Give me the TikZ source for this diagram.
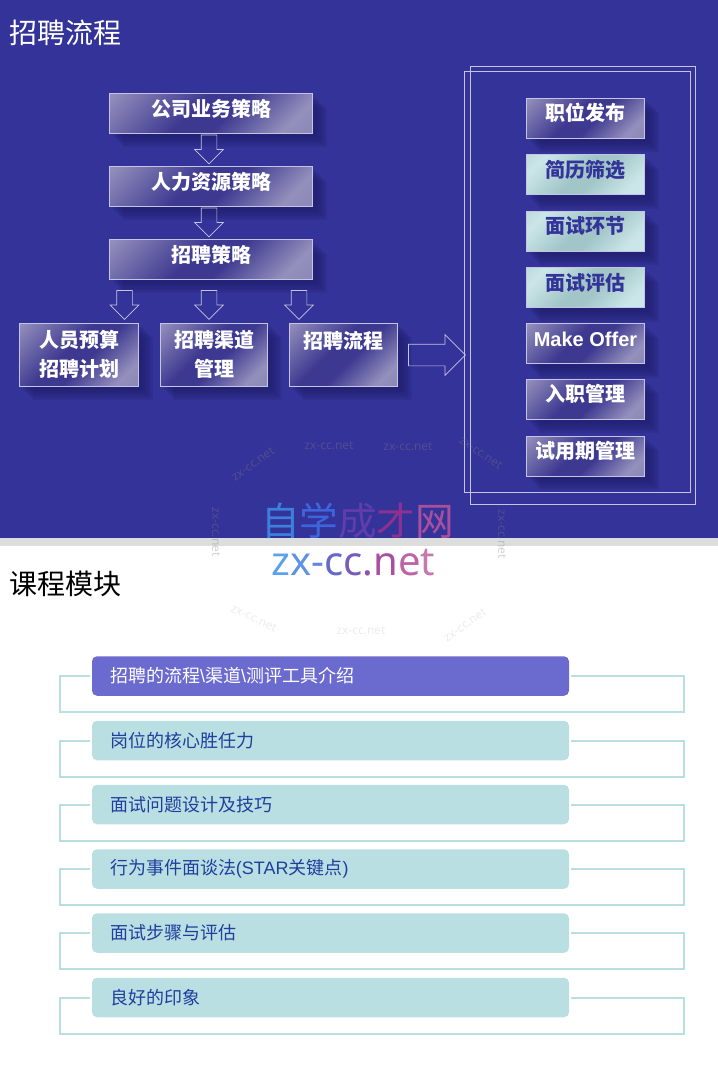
\documentclass[tikz,border=0pt]{standalone}
\usepackage{fontspec}
\setmainfont{Noto Sans CJK SC}
\newfontfamily\latinfont{Liberation Sans}
\newfontfamily\markfont{Noto Sans}
\usetikzlibrary{shapes.arrows,shadows}

\definecolor{pagebg}{HTML}{333399}
\definecolor{bandgray}{HTML}{DCDEDE}
\definecolor{lineglow}{HTML}{C4C4E4}
\definecolor{shadowblue}{HTML}{1E1C66}
\definecolor{darka}{HTML}{9490BC}
\definecolor{darkb}{HTML}{3D3890}
\definecolor{darkc}{HTML}{7E7AAE}
\definecolor{lighta}{HTML}{CBE6E8}
\definecolor{lightb}{HTML}{A2C6C8}
\definecolor{rowteal}{HTML}{B9DFE2}
\definecolor{rowpurple}{HTML}{6B6BCF}
\definecolor{rowtext}{HTML}{1F3F9F}

\pgfdeclarehorizontalshading{darkfill}{100bp}{color(0bp)=(darka); color(15bp)=(darka); color(44bp)=(darkb); color(55bp)=(darkb); color(76bp)=(darka); color(100bp)=(darkc)}
\pgfdeclarehorizontalshading{lightfill}{100bp}{color(0bp)=(lightb); color(24bp)=(lighta); color(46bp)=(lightb); color(56bp)=(lightb); color(76bp)=(lighta); color(100bp)=(lighta)}

\tikzset{
    softshadow/.style={
        general shadow={fill=shadowblue,opacity=.16,shadow xshift=4pt,shadow yshift=-4pt},
        general shadow={fill=shadowblue,opacity=.16,shadow xshift=6pt,shadow yshift=-6pt},
        general shadow={fill=shadowblue,opacity=.16,shadow xshift=8pt,shadow yshift=-8pt},
        general shadow={fill=shadowblue,opacity=.16,shadow xshift=10pt,shadow yshift=-10pt},
        general shadow={fill=shadowblue,opacity=.16,shadow xshift=12pt,shadow yshift=-12pt},
        general shadow={fill=shadowblue,opacity=.16,shadow xshift=14pt,shadow yshift=-14pt}},
    boxbase/.style={softshadow,draw=lineglow,line width=.9pt,inner sep=0pt,font=\bfseries\fontsize{20}{29}\selectfont},
    darkbox/.style={boxbase,shade,shading=darkfill,shading angle=-45,text=white},
    lightbox/.style={boxbase,shade,shading=lightfill,shading angle=-45,text=pagebg},
    liftedtext/.style={text height=14pt,text depth=9pt},
    blockarrow/.style={single arrow,draw=lineglow,line width=.7pt,inner sep=7.5pt,single arrow head extend=6.5pt,minimum width=28pt,minimum height=29pt,rotate=-90},
    rowbox/.style={rounded corners=5pt,minimum width=477pt,minimum height=39.5pt,inner sep=0pt,text width=441pt,align=left,font=\fontsize{18}{22}\selectfont},
    rowplain/.style={rowbox,fill=rowteal,text=rowtext},
    rowline/.style={draw=rowteal,line width=2pt},
    thinmark/.style={font=\markfont\fontsize{12}{12}\selectfont,text=gray,text opacity=.35,inner sep=0pt},
    palemark/.style={font=\markfont\fontsize{12}{12}\selectfont,text=gray,text opacity=.15,inner sep=0pt},
    logomark/.style={inner sep=0pt,text opacity=.85}
}

\begin{document}
\begin{tikzpicture}[x=1pt,y=-1pt]
    \useasboundingbox (0,0) rectangle (718,1080);
    \fill[pagebg](0,0) rectangle (718,538);
    \fill[bandgray](0,538) rectangle (718,546);

    \node[text=white,anchor=west,inner sep=0pt,font=\fontsize{28}{30}\selectfont](titletop) at (9,33){招聘流程};
    \node[text=black,anchor=west,inner sep=0pt,font=\fontsize{28}{30}\selectfont](titlelow) at (9,584){课程模块};

    % left side
    \node[darkbox,liftedtext,minimum width=203.5pt,minimum height=39.5pt](bizplan) at (211,113.5){公司业务策略};
    \node[darkbox,liftedtext,minimum width=203.5pt,minimum height=39.5pt](hrplan) at (211,186.5){人力资源策略};
    \node[darkbox,liftedtext,minimum width=203.5pt,minimum height=39.5pt](hireplan) at (211,259.5){招聘策略};
    \node[darkbox,align=center,minimum width=119.5pt,minimum height=63pt](budget) at (79,354.5){人员预算\\招聘计划};
    \node[darkbox,align=center,minimum width=107.5pt,minimum height=63pt](channel) at (214,354.5){招聘渠道\\管理};
    \node[darkbox,align=center,minimum width=108.5pt,minimum height=63pt](process) at (343.5,354.5){招聘流程\\\mbox{}};

    \node[blockarrow](arrowa) at (209,145.5){};
    \node[blockarrow](arrowb) at (209,218.5){};
    \node[blockarrow](arrowc) at (124.5,301){};
    \node[blockarrow](arrowd) at (209,301){};
    \node[blockarrow](arrowe) at (299,301){};
    \node[blockarrow,rotate=90,inner sep=10.5pt,single arrow head extend=9.5pt,minimum width=40pt,minimum height=57pt](arrowf) at (431.5,355){};

    % right side
    \draw[lineglow,line width=.9pt](470,66) rectangle (695,504);
    \draw[lineglow,line width=.9pt](464.5,71) rectangle (690,492.5);

    \node[darkbox,liftedtext,minimum width=118.5pt,minimum height=40pt](stepa) at (585.5,118){职位发布};
    \node[lightbox,liftedtext,minimum width=118.5pt,minimum height=40pt](stepb) at (585.5,174.5){简历筛选};
    \node[lightbox,liftedtext,minimum width=118.5pt,minimum height=40pt](stepc) at (585.5,231){面试环节};
    \node[lightbox,liftedtext,minimum width=118.5pt,minimum height=40pt](stepd) at (585.5,287.5){面试评估};
    \node[darkbox,liftedtext,minimum width=118.5pt,minimum height=40pt](stepe) at (585.5,343.5){\latinfont\bfseries Make Offer};
    \node[darkbox,liftedtext,minimum width=118.5pt,minimum height=40pt](stepf) at (585.5,399){入职管理};
    \node[darkbox,liftedtext,minimum width=118.5pt,minimum height=40pt](stepg) at (585.5,456){试用期管理};

    % watermarks
    \node[thinmark](marka) at (329,446){zx-cc.net};
    \node[thinmark](markb) at (408,447){zx-cc.net};
    \node[thinmark,rotate=35](markc) at (253,464){zx-cc.net};
    \node[thinmark,rotate=-35](markd) at (481,453){zx-cc.net};
    \node[thinmark,rotate=-90](marke) at (216,532){zx-cc.net};
    \node[thinmark,rotate=-90](markf) at (502,534){zx-cc.net};
    \node[palemark,rotate=-25](markg) at (254,618){zx-cc.net};
    \node[palemark](markh) at (361,631){zx-cc.net};
    \node[palemark,rotate=35](marki) at (465,625){zx-cc.net};

    \node[logomark,font=\fontsize{38.6}{40}\selectfont](logocn) at (357.5,521){\textcolor[HTML]{3F8EE8}{自}\textcolor[HTML]{4070E8}{学}\textcolor[HTML]{6A3FB0}{成}\textcolor[HTML]{A03090}{才}\textcolor[HTML]{C0559E}{网}};
    \node[logomark,font=\markfont\fontsize{40}{40}\selectfont](logoen) at (353.5,563){\textcolor[HTML]{4090E8}{z}\textcolor[HTML]{4080E0}{x}\textcolor[HTML]{4A70D8}{-}\textcolor[HTML]{4A50C0}{c}\textcolor[HTML]{6040B0}{c}\textcolor[HTML]{8030A0}{.}\textcolor[HTML]{9A3090}{n}\textcolor[HTML]{B04A96}{e}\textcolor[HTML]{C0609F}{t}};

    % course rows
    \node[rowbox,fill=rowpurple,text=white](rowa) at (330.5,676){招聘的流程{\latinfont\textbackslash}渠道{\latinfont\textbackslash}测评工具介绍};
    \node[rowplain](rowb) at (330.5,740.5){岗位的核心胜任力};
    \node[rowplain](rowc) at (330.5,804.5){面试问题设计及技巧};
    \node[rowplain](rowd) at (330.5,869){行为事件面谈法{\latinfont (STAR}关键点{\latinfont )}};
    \node[rowplain](rowe) at (330.5,933){面试步骤与评估};
    \node[rowplain](rowf) at (330.5,997.5){良好的印象};

    \draw[rowline]([xshift=-2pt]rowa.west)--++(-30,0)--++(0,36)--++(624.5,0)--++(0,-36)--([xshift=2pt]rowa.east);
    \draw[rowline]([xshift=-2pt]rowb.west)--++(-30,0)--++(0,36)--++(624.5,0)--++(0,-36)--([xshift=2pt]rowb.east);
    \draw[rowline]([xshift=-2pt]rowc.west)--++(-30,0)--++(0,36)--++(624.5,0)--++(0,-36)--([xshift=2pt]rowc.east);
    \draw[rowline]([xshift=-2pt]rowd.west)--++(-30,0)--++(0,36)--++(624.5,0)--++(0,-36)--([xshift=2pt]rowd.east);
    \draw[rowline]([xshift=-2pt]rowe.west)--++(-30,0)--++(0,36)--++(624.5,0)--++(0,-36)--([xshift=2pt]rowe.east);
    \draw[rowline]([xshift=-2pt]rowf.west)--++(-30,0)--++(0,36)--++(624.5,0)--++(0,-36)--([xshift=2pt]rowf.east);
\end{tikzpicture}
\end{document}
